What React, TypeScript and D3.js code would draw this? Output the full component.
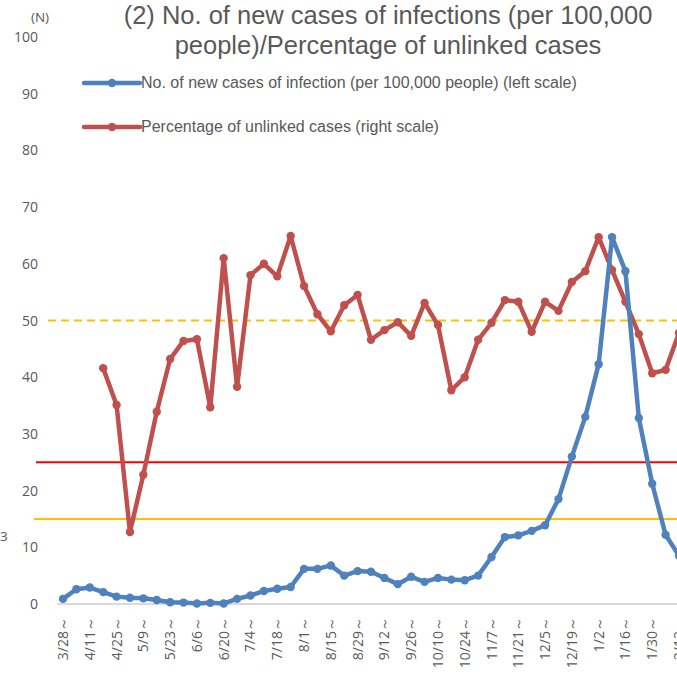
import React from "react";
import * as d3 from "d3";

const weeks = [
  "3/28", "4/4", "4/11", "4/18", "4/25", "5/2", "5/9", "5/16", "5/23", "5/30",
  "6/6", "6/13", "6/20", "6/27", "7/4", "7/11", "7/18", "7/25", "8/1", "8/8",
  "8/15", "8/22", "8/29", "9/5", "9/12", "9/19", "9/26", "10/3", "10/10", "10/17",
  "10/24", "10/31", "11/7", "11/14", "11/21", "11/28", "12/5", "12/12", "12/19", "12/26",
  "1/2", "1/9", "1/16", "1/23", "1/30", "2/6", "2/13",
];

const newCases = [
  0.9, 2.6, 2.9, 2.1, 1.3, 1.1, 1.0, 0.7, 0.3, 0.25,
  0.1, 0.2, 0.1, 0.9, 1.5, 2.3, 2.7, 3.0, 6.2, 6.2,
  6.8, 5.0, 5.8, 5.7, 4.6, 3.5, 4.8, 3.9, 4.6, 4.3,
  4.2, 5.0, 8.3, 11.8, 12.1, 12.9, 13.9, 18.5, 26.0, 33.0,
  42.3, 64.7, 58.7, 32.8, 21.2, 12.2, 8.5,
];

const unlinked: (number | null)[] = [
  null, null, null, 41.6, 35.1, 12.7, 22.8, 33.9, 43.2, 46.4,
  46.7, 34.7, 61.0, 38.3, 58.0, 60.0, 57.8, 64.9, 56.1, 51.1,
  48.1, 52.7, 54.5, 46.6, 48.3, 49.7, 47.3, 53.1, 49.2, 37.7,
  40.0, 46.6, 49.6, 53.6, 53.3, 48.0, 53.3, 51.7, 56.8, 58.7,
  64.7, 58.9, 53.3, 47.6, 40.7, 41.3, 47.8,
];

const yTicks = [0, 10, 20, 30, 40, 50, 60, 70, 80, 90, 100];
const refRed = 25;
const refOrange = 15;
const refDashed = 50;

const titleLines = [
  "(2) No. of new cases of infections (per 100,000",
  "people)/Percentage of unlinked cases",
];
const legendItems = [
  { label: "No. of new cases of infection (per 100,000 people) (left scale)", color: "#4F81BD" },
  { label: "Percentage of unlinked cases (right scale)", color: "#C0504D" },
];

export default function App() {
  const W = 677, H = 677;
  const x = d3.scalePoint<string>().domain(weeks).range([63, 679]);
  const y = d3.scaleLinear().domain([0, 100]).range([604, 37]);

  const blueLine = d3
    .line<number>()
    .x((_, i) => x(weeks[i])!)
    .y((d) => y(d));
  const redLine = d3
    .line<number | null>()
    .defined((d) => d !== null)
    .x((_, i) => x(weeks[i])!)
    .y((d) => y(d as number));

  const grey = "#595959";
  const tickFont = "'Open Sans', 'DejaVu Sans', sans-serif";
  const textFont = "'Liberation Sans', Arial, sans-serif";

  return (
    <svg
      width={W}
      height={H}
      style={{ position: "absolute", left: 0, top: 0, background: "#fff" }}
    >
      {/* title */}
      {titleLines.map((t, i) => (
        <text
          key={i}
          x={388}
          y={24 + i * 30}
          textAnchor="middle"
          fontFamily={textFont}
          fontSize={25.5}
          fill={grey}
        >
          {t}
        </text>
      ))}
      <text x={40} y={22} textAnchor="middle" fontFamily={tickFont} fontSize={13.5} fill={grey}>
        (N)
      </text>
      <text x={0} y={541} fontFamily={tickFont} fontSize={13.5} fill={grey}>
        3
      </text>

      {/* y tick labels */}
      {yTicks.map((t) => (
        <text
          key={t}
          x={38}
          y={y(t) + 5}
          textAnchor="end"
          fontFamily={tickFont}
          fontSize={14}
          fill={grey}
        >
          {t}
        </text>
      ))}

      {/* baseline */}
      <line x1={57} x2={W} y1={y(0)} y2={y(0)} stroke="#D9D9D9" strokeWidth={2} />

      {/* x labels */}
      {weeks.map((w, i) =>
        i % 2 === 0 ? (
          <text
            key={w}
            transform={`translate(${x(w)! + 5},617) rotate(-90)`}
            textAnchor="end"
            fontFamily={tickFont}
            fontSize={14}
            fill={grey}
          >
            {w + "～"}
          </text>
        ) : null
      )}

      {/* reference lines */}
      <line x1={36} x2={W} y1={y(refRed)} y2={y(refRed)} stroke="#FF0000" strokeWidth={2} />
      <line x1={34} x2={W} y1={y(refOrange)} y2={y(refOrange)} stroke="#FFC000" strokeWidth={2} />
      <line
        x1={48}
        x2={W}
        y1={y(refDashed)}
        y2={y(refDashed)}
        stroke="#FFC000"
        strokeWidth={2}
        strokeDasharray="8,5"
      />

      {/* series */}
      <path d={redLine(unlinked) || ""} fill="none" stroke="#C0504D" strokeWidth={4.5} strokeLinejoin="round" />
      {unlinked.map((v, i) =>
        v === null ? null : (
          <circle key={"r" + i} cx={x(weeks[i])} cy={y(v)} r={4.2} fill="#C0504D" />
        )
      )}
      <path d={blueLine(newCases) || ""} fill="none" stroke="#4F81BD" strokeWidth={4.5} strokeLinejoin="round" />
      {newCases.map((v, i) => (
        <circle key={"b" + i} cx={x(weeks[i])} cy={y(v)} r={4.2} fill="#4F81BD" />
      ))}

      {/* legend */}
      {legendItems.map((l, i) => {
        const ly = 83 + i * 44;
        return (
          <g key={l.label}>
            <line x1={84} x2={140} y1={ly} y2={ly} stroke={l.color} strokeWidth={4.5} strokeLinecap="round" />
            <circle cx={112} cy={ly} r={4.2} fill={l.color} />
            <text x={141} y={ly + 5} fontFamily={textFont} fontSize={16} fill={grey}>
              {l.label}
            </text>
          </g>
        );
      })}
    </svg>
  );
}
